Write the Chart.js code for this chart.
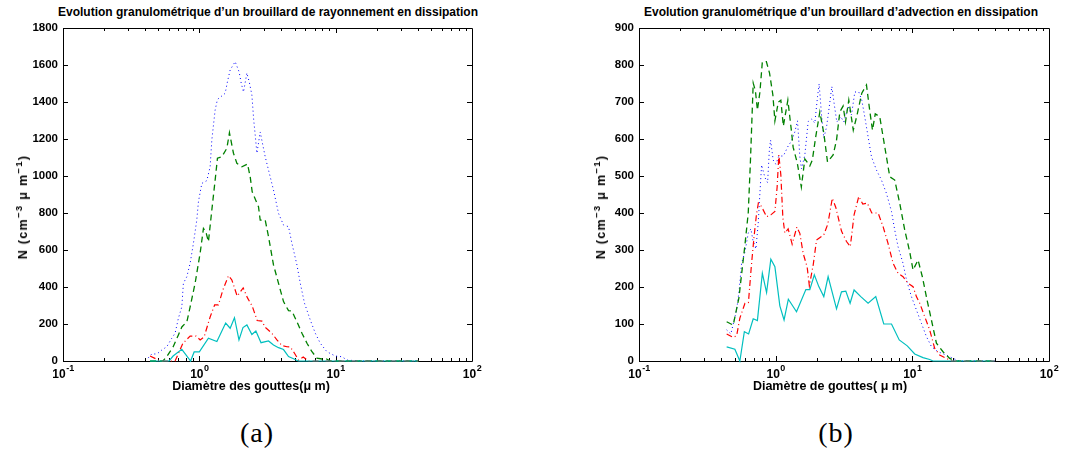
<!DOCTYPE html>
<html>
<head>
<meta charset="utf-8">
<script src="https://cdn.jsdelivr.net/npm/chart.js@4.4.1/dist/chart.umd.min.js"></script>
<style>
  body { margin: 0; background: #fff; width: 1077px; height: 452px; position: relative; overflow: hidden; }
  canvas { position: absolute; top: 0; }
  .ttl { position: absolute; top: 5px; font: bold 12px "Liberation Sans", Arial, sans-serif; white-space: nowrap; transform: translateX(-50%); }
  .xt { position: absolute; top: 379px; font: bold 12.5px "Liberation Sans", Arial, sans-serif; white-space: nowrap; transform: translateX(-50%); }
  .yt { position: absolute; top: 207px; font: bold 12.5px "Liberation Sans", Arial, sans-serif; white-space: nowrap; letter-spacing: 1.3px;
        transform: translate(-50%, -50%) rotate(-90deg); }
  .yt sup { font-size: 9.5px; vertical-align: 5px; line-height: 0; }
  .cap { position: absolute; top: 417px; font: 28px "Liberation Serif", serif; transform: translateX(-50%); letter-spacing: 1px; }
</style>
</head>
<body>
<div class="ttl" style="left:268px">Evolution granulométrique d’un brouillard de rayonnement en dissipation</div>
<div class="ttl" style="left:841px">Evolution granulométrique d’un brouillard d’advection en dissipation</div>
<canvas id="chartA" width="540" height="398" style="left:0"></canvas>
<canvas id="chartB" width="537" height="398" style="left:540px"></canvas>
<div class="yt" style="left:23px">N (cm<sup>−3</sup> μ m<sup>−1</sup>)</div>
<div class="yt" style="left:601px">N (cm<sup>−3</sup> μ m<sup>−1</sup>)</div>
<div class="xt" style="left:251px">Diamètre des gouttes(μ m)</div>
<div class="xt" style="left:830px">Diamètre de gouttes( μ m)</div>
<div class="cap" style="left:257px">(a)</div>
<div class="cap" style="left:836px">(b)</div>
<script>
// --- données : diamètre (µm) / N (cm-3 µm-1) ---

// (a) brouillard de rayonnement
const dA_cyan = [0.435,0.600,0.642,0.744,0.863,0.916,1.00,1.166,1.345,1.560,1.683,1.810,1.953,2.090,2.233,2.429,2.599,2.834,3.217,3.50,3.81,4.145,4.51,4.91,5.31,40.4];
const nA_cyan = [0,0,27,63,0,49,49,123,105,205,177,234,114,181,195,143,162,99,108,86,72,62,24,12,0,0];

const dA_red = [0.435,0.516,0.664,0.757,0.856,0.947,1.014,1.084,1.200,1.295,1.381,1.488,1.636,1.732,1.895,2.097,2.256,2.442,2.657,2.877,3.042,3.406,3.707,4.034,4.389,4.642,4.99,5.34,5.78,6.29,40.4];
const nA_red = [27,0,0,95,135,135,114,130,238,303,303,384,461,438,351,395,341,297,219,216,182,150,114,83,77,76,42,5,22,0,0];

const dA_green = [0.435,0.542,0.580,0.642,0.702,0.744,0.810,0.856,0.932,1.014,1.072,1.116,1.166,1.235,1.306,1.358,1.463,1.592,1.663,1.780,1.885,2.051,2.256,2.360,2.442,2.716,2.796,3.042,3.217,3.50,3.81,4.145,4.51,4.776,5.20,5.66,6.16,6.70,7.29,7.93,8.39,9.13,40.4];
const nA_green = [0,0,27,76,141,184,212,292,422,584,717,699,645,816,978,1096,1104,1150,1234,1123,1069,1050,1065,996,915,834,762,762,672,519,420,321,272,270,212,150,96,50,16,11,15,0,0];

const dA_blue = [0.421,0.448,0.488,0.530,0.577,0.628,0.664,0.702,0.744,0.764,0.810,0.856,0.905,0.958,0.985,1.043,1.135,1.200,1.235,1.306,1.358,1.547,1.608,1.683,1.831,1.960,2.027,2.108,2.233,2.332,2.429,2.505,2.569,2.644,2.796,2.891,3.042,3.217,3.50,3.81,4.145,4.51,4.776,5.20,5.50,5.91,6.51,7.09,7.71,8.63,9.93,11.13,12.11,15.16,40.4];
const nA_blue = [16,38,38,59,77,123,150,231,293,420,456,528,636,762,861,960,975,1050,1195,1357,1414,1447,1510,1573,1618,1562,1503,1454,1557,1503,1438,1303,1222,1123,1238,1184,1104,1032,924,798,735,726,636,519,420,312,222,150,96,50,27,23,5,0,0];

// (b) brouillard d'advection
const dB_cyan = [0.438,0.503,0.547,0.590,0.634,0.685,0.735,0.799,0.858,0.922,0.987,1.073,1.152,1.238,1.421,1.663,1.778,1.918,2.069,2.250,2.420,2.788,3.031,3.260,3.504,3.748,4.196,4.746,5.40,6.18,7.04,8.02,9.18,10.41,11.97,13.40,14.17,40.0];
const nB_cyan = [38,32,0,79,73,114,109,237,185,275,255,149,111,167,133,193,193,233,201,174,228,141,187,189,156,192,174,156,174,100,100,57,41,19,9,4,0,0];

const dB_red = [0.438,0.486,0.518,0.547,0.596,0.632,0.664,0.693,0.723,0.747,0.789,0.858,0.922,0.987,1.025,1.055,1.091,1.129,1.167,1.234,1.320,1.429,1.503,1.589,1.700,1.764,1.886,1.991,2.250,2.407,2.597,2.755,3.031,3.298,3.516,3.748,4.057,4.340,4.680,5.05,5.62,6.11,6.64,7.23,7.86,8.55,9.30,10.12,10.71,11.33,12.32,13.40,14.58,15.86,17.76,19.41,40.0];
const nB_red = [73,64,68,116,156,158,257,332,395,427,417,390,395,404,470,557,503,387,346,357,316,362,345,291,254,203,262,327,341,370,440,415,351,323,309,395,445,424,427,400,400,363,318,264,237,228,210,201,174,156,120,84,34,16,7,0,0];

const dB_green = [0.438,0.489,0.538,0.596,0.630,0.653,0.685,0.711,0.735,0.767,0.799,0.855,0.902,0.954,0.987,1.046,1.091,1.138,1.228,1.302,1.342,1.440,1.541,1.635,1.778,1.855,1.958,2.104,2.250,2.395,2.633,2.788,2.947,3.115,3.243,3.428,3.698,3.924,4.267,4.618,4.882,5.109,5.355,5.776,6.284,6.837,7.435,8.09,8.80,9.57,10.12,11.01,11.85,12.81,13.79,15.01,16.77,18.77,20.76,40.0];
const nB_green = [106,97,170,314,400,535,751,730,678,727,809,809,778,719,649,700,705,635,705,624,578,535,470,546,527,543,603,673,616,538,557,597,673,689,646,705,624,662,724,746,676,624,668,660,579,498,489,426,354,295,246,273,227,165,111,48,25,7,0,0];

const dB_blue = [0.438,0.470,0.518,0.541,0.563,0.596,0.630,0.659,0.681,0.717,0.745,0.767,0.789,0.834,0.873,0.899,0.918,0.959,1.003,1.055,1.138,1.234,1.307,1.381,1.445,1.503,1.546,1.635,1.729,1.830,1.934,2.024,2.080,2.166,2.250,2.356,2.461,2.576,2.687,2.802,2.997,3.151,3.388,3.589,3.794,4.057,4.267,4.487,4.746,5.023,5.466,5.944,6.467,7.04,7.435,7.86,8.55,9.06,9.85,10.71,11.65,12.68,13.79,15.41,17.76,19.84,22.21,40.0];
const nB_blue = [84,73,138,192,264,295,346,357,327,303,372,454,530,496,482,570,597,543,532,554,554,581,595,619,649,552,519,557,647,654,643,714,749,665,603,632,684,742,692,646,660,646,687,665,727,727,705,660,606,552,516,489,453,404,354,309,264,219,174,138,102,66,39,25,16,7,0,0];

// axes
const xTickPowers = [-1, 0, 1, 2];
const yTicksA = [0,200,400,600,800,1000,1200,1400,1600,1800];
const yTicksB = [0,100,200,300,400,500,600,700,800,900];

Chart.defaults.font.family = '"Liberation Sans", Arial, sans-serif';
Chart.defaults.color = '#000';

function pts(d, n) { return d.map((v, i) => ({ x: v, y: n[i] })); }

// cadre + graduations intérieures + étiquettes 10^n
const matlabBox = {
  id: 'matlabBox',
  beforeDatasetsDraw(chart) {
    const { ctx, chartArea: a, scales: { x, y } } = chart;
    ctx.save();
    ctx.strokeStyle = '#000';
    ctx.lineWidth = 1;
    ctx.beginPath();
    ctx.rect(Math.round(a.left) + 0.5, Math.round(a.top) + 0.5, Math.round(a.width), Math.round(a.height));
    for (let e = xTickPowers[0]; e < xTickPowers[xTickPowers.length - 1]; e++) {
      for (let k = 1; k <= 9; k++) {
        const px = Math.round(x.getPixelForValue(k * Math.pow(10, e))) + 0.5;
        const len = k === 1 ? 5 : 3;
        ctx.moveTo(px, a.bottom); ctx.lineTo(px, a.bottom - len);
        ctx.moveTo(px, a.top); ctx.lineTo(px, a.top + len);
      }
    }
    y.ticks.forEach(t => {
      const py = Math.round(y.getPixelForValue(t.value)) + 0.5;
      ctx.moveTo(a.left, py); ctx.lineTo(a.left + 5, py);
      ctx.moveTo(a.right, py); ctx.lineTo(a.right - 5, py);
    });
    ctx.stroke();

    // étiquettes 10^-1 ... 10^2
    ctx.fillStyle = '#000';
    ctx.textBaseline = 'alphabetic';
    ctx.textAlign = 'left';
    const big = 'bold 12px "Liberation Sans", Arial, sans-serif';
    const small = 'bold 9px "Liberation Sans", Arial, sans-serif';
    xTickPowers.forEach(p => {
      const px = x.getPixelForValue(Math.pow(10, p));
      const exp = String(p);
      ctx.font = big;
      const w1 = ctx.measureText('10').width;
      ctx.font = small;
      const w2 = ctx.measureText(exp).width;
      const x0 = px - (w1 + w2) / 2;
      ctx.font = big;
      ctx.fillText('10', x0, a.bottom + 17);
      ctx.font = small;
      ctx.fillText(exp, x0 + w1 + 0.5, a.bottom + 10);
    });
    ctx.restore();
  }
};

function series(d, n, color, dash, width) {
  return {
    data: pts(d, n), borderColor: color, borderWidth: width, borderDash: dash,
    pointRadius: 0, tension: 0, fill: false, clip: false
  };
}

function makeChart(id, sets, yTicks, pad, yWidth) {
  return new Chart(document.getElementById(id), {
    type: 'line',
    data: { datasets: sets },
    options: {
      responsive: false,
      animation: false,
      layout: { padding: pad },
      plugins: { legend: { display: false }, tooltip: { enabled: false } },
      scales: {
        x: {
          type: 'logarithmic', min: 0.1, max: 100,
          grid: { display: false, drawTicks: false }, border: { display: false },
          ticks: { display: false },
          afterFit: s => { s.height = 37; }
        },
        y: {
          min: yTicks[0], max: yTicks[yTicks.length - 1],
          afterBuildTicks: s => { s.ticks = yTicks.map(v => ({ value: v })); },
          grid: { display: false, drawTicks: false }, border: { display: false },
          ticks: { padding: 5, font: { size: 11.5, weight: 'bold' }, callback: v => String(v) },
          afterFit: s => { s.width = yWidth; }
        }
      }
    },
    plugins: [matlabBox]
  });
}

makeChart('chartA', [
  series(dA_cyan, nA_cyan, '#00bfbf', [], 1.2),
  series(dA_red, nA_red, '#ff0000', [6, 3, 1, 3], 1.2),
  series(dA_green, nA_green, '#008000', [6, 4], 1.3),
  series(dA_blue, nA_blue, '#0000ff', [1, 3], 1)
], yTicksA, { left: 10, top: 28, right: 68, bottom: 0 }, 53);

makeChart('chartB', [
  series(dB_cyan, nB_cyan, '#00bfbf', [], 1.2),
  series(dB_red, nB_red, '#ff0000', [6, 3, 1, 3], 1.2),
  series(dB_green, nB_green, '#008000', [6, 4], 1.3),
  series(dB_blue, nB_blue, '#0000ff', [1, 3], 1)
], yTicksB, { left: 49, top: 28, right: 28, bottom: 0 }, 50);
</script>
</body>
</html>
